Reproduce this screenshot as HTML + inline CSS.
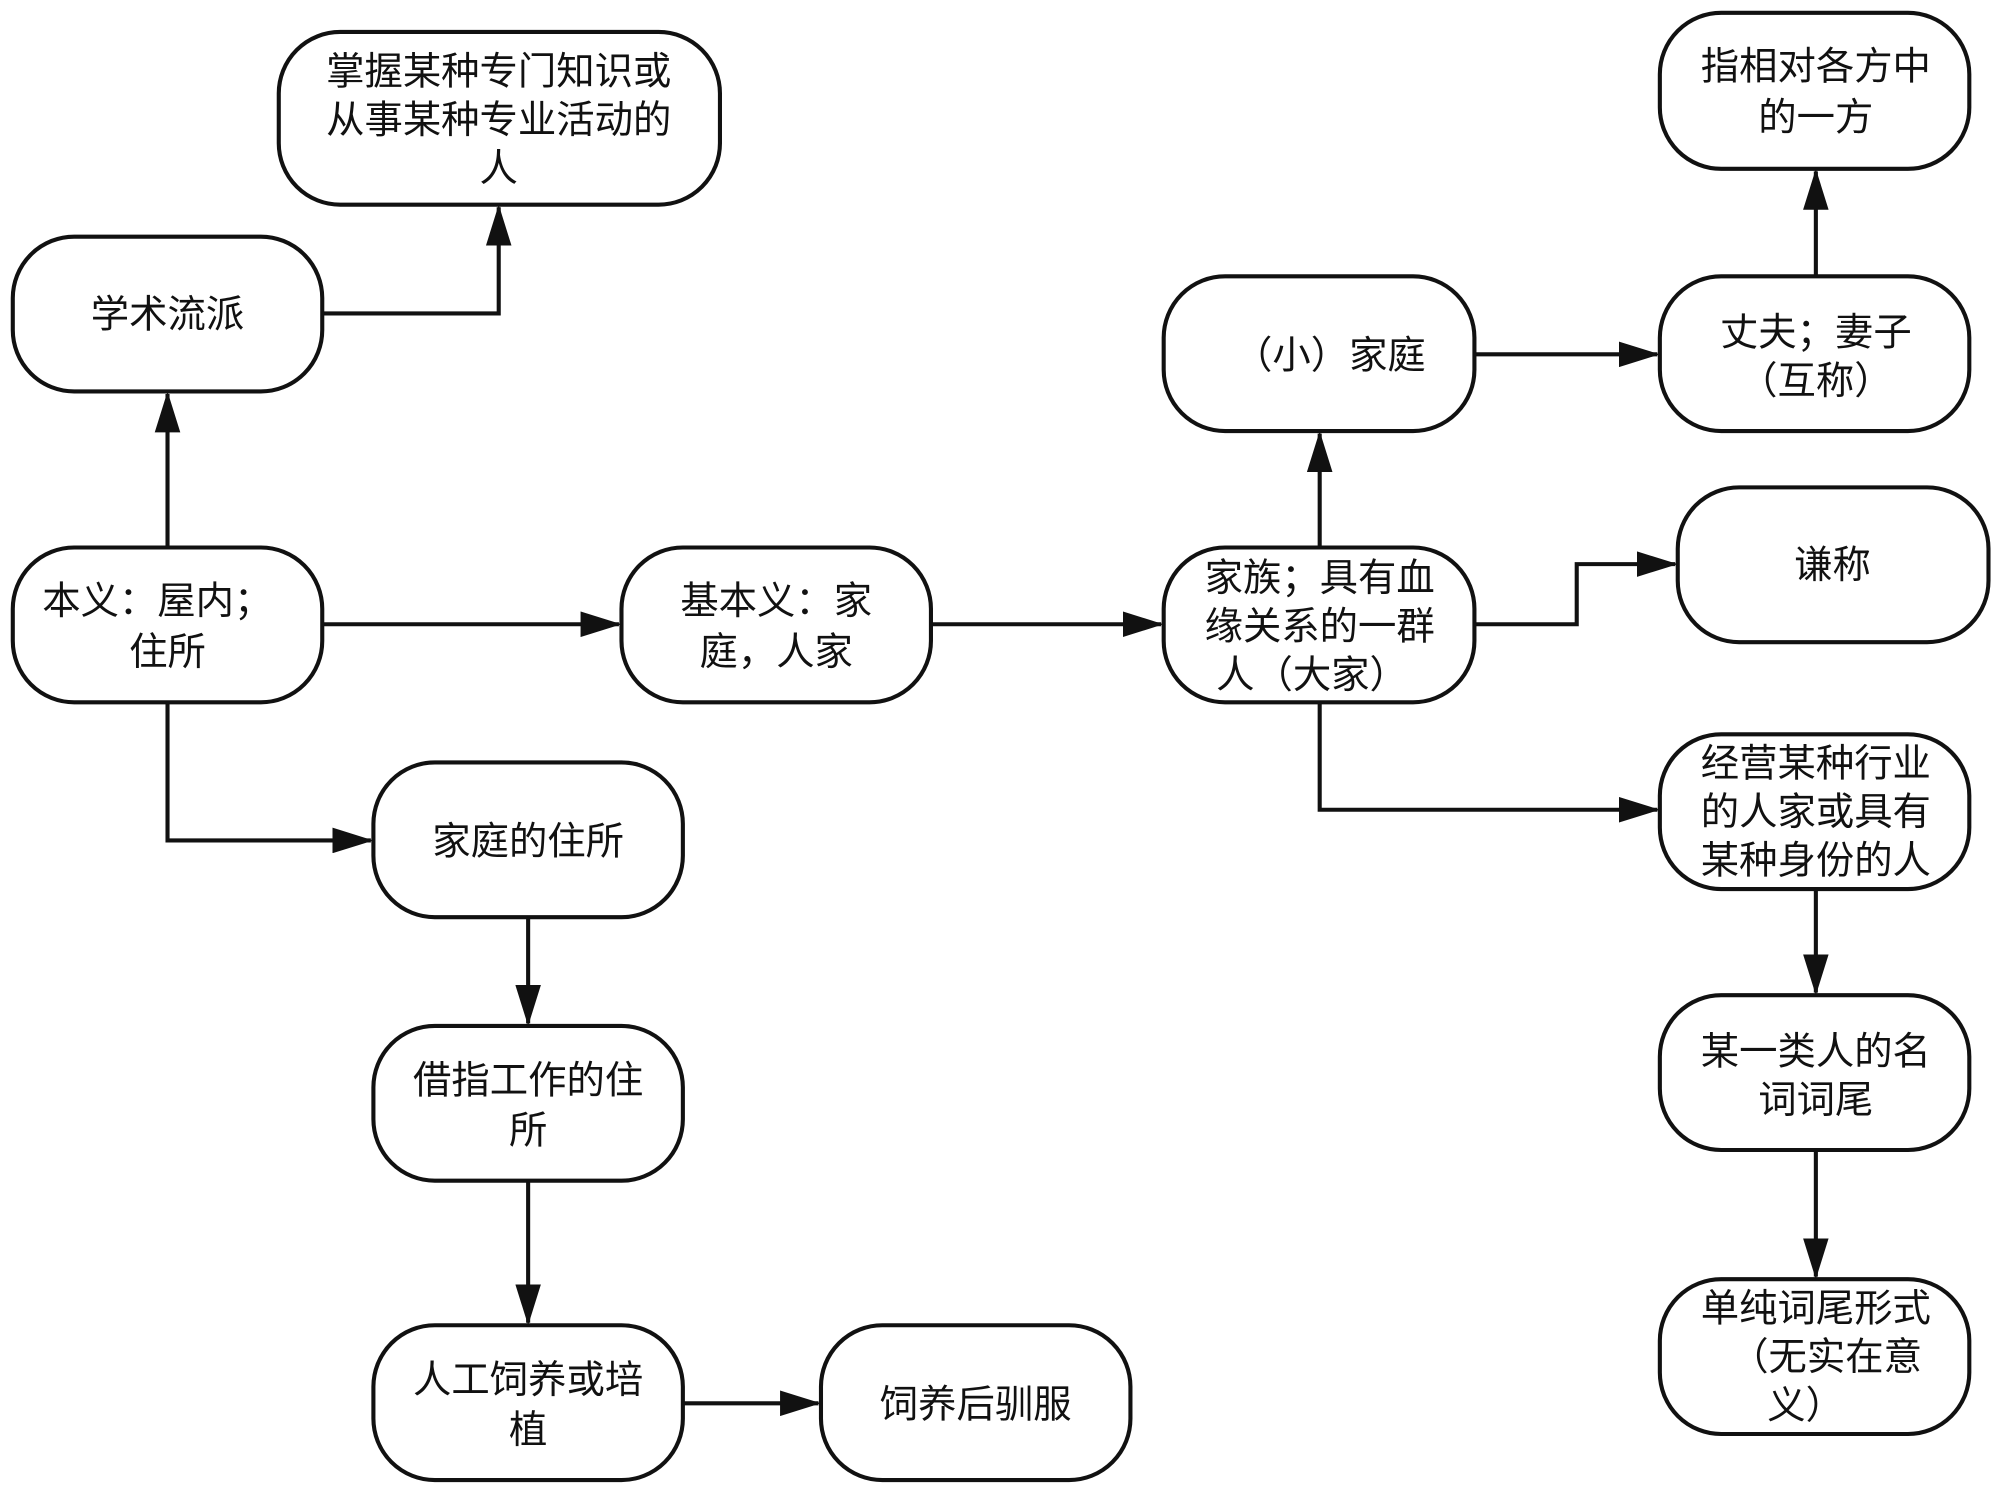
<!DOCTYPE html>
<html><head><meta charset="utf-8"><style>
html,body{margin:0;padding:0;background:#fff;}
svg{display:block;}
text{font-family:"Liberation Sans","Noto Sans CJK SC",sans-serif;font-size:30px;fill:#111;text-anchor:middle;}
.n{fill:#fff;stroke:#111;stroke-width:3.2;}
.e{fill:none;stroke:#111;stroke-width:3.2;}
</style></head><body>
<svg width="2000" height="1489" viewBox="0 0 1564 1164" preserveAspectRatio="none" xmlns="http://www.w3.org/2000/svg">
<defs><marker id="a" markerWidth="12" markerHeight="10" refX="11" refY="5" orient="auto" markerUnits="userSpaceOnUse" viewBox="0 0 12 10"><path d="M0,0 L12,5 L0,10 z" fill="#111"/></marker>
<marker id="b" markerWidth="32" markerHeight="20" refX="30" refY="10" orient="auto" markerUnits="userSpaceOnUse"><path d="M0,0 L32,10 L0,20 z" fill="#111"/></marker></defs>
<g class="e">
<path d="M131,428 V308" marker-end="url(#b)"/>
<path d="M252,245 H390 V162" marker-end="url(#b)"/>
<path d="M252,488 H484" marker-end="url(#b)"/>
<path d="M728,488 H908" marker-end="url(#b)"/>
<path d="M131,549 V657 H290" marker-end="url(#b)"/>
<path d="M413,717 V800" marker-end="url(#b)"/>
<path d="M413,923 V1034" marker-end="url(#b)"/>
<path d="M534,1097 H640" marker-end="url(#b)"/>
<path d="M1032,428 V339" marker-end="url(#b)"/>
<path d="M1153,277 H1296" marker-end="url(#b)"/>
<path d="M1420,216 V134" marker-end="url(#b)"/>
<path d="M1153,488 H1233 V441 H1310" marker-end="url(#b)"/>
<path d="M1032,549 V633 H1296" marker-end="url(#b)"/>
<path d="M1420,695 V776" marker-end="url(#b)"/>
<path d="M1420,899 V998" marker-end="url(#b)"/>
</g>
<g>
<rect class="n" x="218" y="25" width="345" height="135" rx="48"/>
<text x="390" y="66">掌握某种专门知识或</text><text x="390" y="104">从事某种专业活动的</text><text x="390" y="142">人</text>
<rect class="n" x="10" y="185" width="242" height="121" rx="48"/>
<text x="131" y="256">学术流派</text>
<rect class="n" x="10" y="428" width="242" height="121" rx="48"/>
<text x="123" y="480">本义：屋内；</text><text x="131" y="520">住所</text>
<rect class="n" x="486" y="428" width="242" height="121" rx="48"/>
<text x="607" y="480">基本义：家</text><text x="607" y="520">庭，人家</text>
<rect class="n" x="910" y="428" width="243" height="121" rx="48"/>
<text x="1032" y="462">家族；具有血</text><text x="1032" y="500">缘关系的一群</text><text x="1026" y="538">人（大家）</text>
<rect class="n" x="910" y="216" width="243" height="121" rx="48"/>
<text x="1040" y="288">（小）家庭</text>
<rect class="n" x="1298" y="216" width="242" height="121" rx="48"/>
<text x="1420" y="270">丈夫；妻子</text><text x="1420" y="308">（互称）</text>
<rect class="n" x="1298" y="10" width="242" height="122" rx="48"/>
<text x="1420" y="62">指相对各方中</text><text x="1420" y="102">的一方</text>
<rect class="n" x="1312" y="381" width="243" height="121" rx="48"/>
<text x="1433" y="452">谦称</text>
<rect class="n" x="1298" y="574" width="242" height="121" rx="48"/>
<text x="1420" y="607">经营某种行业</text><text x="1420" y="645">的人家或具有</text><text x="1420" y="683">某种身份的人</text>
<rect class="n" x="1298" y="778" width="242" height="121" rx="48"/>
<text x="1420" y="832">某一类人的名</text><text x="1420" y="870">词词尾</text>
<rect class="n" x="1298" y="1000" width="242" height="121" rx="48"/>
<text x="1420" y="1033">单纯词尾形式</text><text x="1428" y="1071">（无实在意</text><text x="1412" y="1109">义）</text>
<rect class="n" x="292" y="596" width="242" height="121" rx="48"/>
<text x="413" y="668">家庭的住所</text>
<rect class="n" x="292" y="802" width="242" height="121" rx="48"/>
<text x="413" y="855">借指工作的住</text><text x="413" y="894">所</text>
<rect class="n" x="292" y="1036" width="242" height="121" rx="48"/>
<text x="413" y="1089">人工饲养或培</text><text x="413" y="1128">植</text>
<rect class="n" x="642" y="1036" width="242" height="121" rx="48"/>
<text x="763" y="1108">饲养后驯服</text>
</g>
</svg>
</body></html>
